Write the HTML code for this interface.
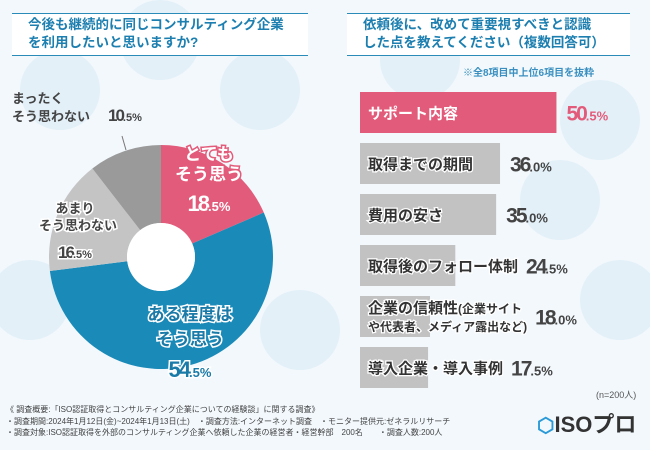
<!DOCTYPE html>
<html><head><meta charset="utf-8"><style>
body{margin:0;width:650px;height:450px;overflow:hidden;background:#f2f8fc;font-family:"Liberation Sans","Noto Sans CJK JP",sans-serif;}
#root{position:relative;width:650px;height:450px;}
.t{position:absolute;}
</style></head><body>
<div id="root">
<svg width="650" height="450" style="position:absolute;left:0;top:0">
 <g fill="#e3f0f8">
  <circle cx="60" cy="90" r="40"/><circle cx="260" cy="90" r="40"/><circle cx="160" cy="40" r="40"/>
  <circle cx="420" cy="60" r="40"/><circle cx="600" cy="120" r="40"/><circle cx="620" cy="300" r="40"/>
  <circle cx="30" cy="300" r="40"/><circle cx="300" cy="330" r="40"/><circle cx="560" cy="200" r="40"/>
 </g>
</svg>
<div class="t" style="left:12px;top:13px;width:296px;height:43px;background:#fff;border-top:1.5px solid #2a8ab8;border-bottom:1.5px solid #2a8ab8;color:#1c7fb0;font-size:13.5px;line-height:18px;padding:2px 0 0 16px;box-sizing:border-box;font-weight:bold;">今後も継続的に同じコンサルティング企業<br>を利用したいと思いますか?</div>
<div class="t" style="left:347px;top:13px;width:283px;height:43px;background:#fff;border-top:1.5px solid #2a8ab8;border-bottom:1.5px solid #2a8ab8;color:#1c7fb0;font-size:13.5px;line-height:18px;padding:2px 0 0 16px;box-sizing:border-box;font-weight:bold;">依頼後に、改めて重要視すべきと認識<br>した点を教えてください（複数回答可）</div>
<div class="t" style="left:463px;top:64px;font-size:10px;color:#3a8fc0;font-weight:bold;">※全8項目中上位6項目を抜粋</div>
<svg id="pie" width="650" height="450" style="position:absolute;left:0;top:0"></svg>
<svg id="bars" width="650" height="450" style="position:absolute;left:0;top:0"></svg>
<div class="t" style="left:596px;top:388px;font-size:9px;color:#555;">(n=200人)</div>
<div class="t" style="left:6px;top:404px;font-size:8px;line-height:11.5px;color:#444;white-space:nowrap;">《 調査概要:「ISO認証取得とコンサルティング企業についての経験談」に関する調査》<br>・調査期間:2024年1月12日(金)~2024年1月13日(土)　・調査方法:インターネット調査　・モニター提供元:ゼネラルリサーチ<br>・調査対象:ISO認証取得を外部のコンサルティング企業へ依頼した企業の経営者・経営幹部　200名　　・調査人数:200人</div>
<div class="t" style="left:537px;top:407px;font-size:22px;font-weight:bold;color:#333;"><span style="color:#2a9ad8;font-size:20px">⬡</span>ISOプロ</div>
</div>
<script>
const pieLabels=[["とても","そう思う"],["ある程度は","そう思う"],["あまり","そう思わない"],["まったく","そう思わない"]];
const pieValues=[18.5,54.5,16.5,10.5];
const pieColors=["#e35b7a","#1a8ab8","#c4c4c4","#9a9a9a"];
const barLabels=["サポート内容","取得までの期間","費用の安さ","取得後のフォロー体制","企業の信頼性","導入企業・導入事例"];
const barValues=[50.5,36.0,35.0,24.5,18.0,17.5];
const NS="http://www.w3.org/2000/svg";
function mk(p,tag,a){const e=document.createElementNS(NS,tag);for(const k in a)e.setAttribute(k,a[k]);p.appendChild(e);return e;}
const pie=document.getElementById('pie');
const cx=161,cy=257,R=112,r0=34;
const total=pieValues.reduce((a,b)=>a+b,0);
let acc=0;
function pt(f,rad){const a=f*2*Math.PI-Math.PI/2;return [cx+rad*Math.cos(a),cy+rad*Math.sin(a)];}
pieValues.forEach((v,i)=>{
 const f0=acc/total,f1=(acc+v)/total;acc+=v;
 const [x0,y0]=pt(f0,R),[x1,y1]=pt(f1,R),[x2,y2]=pt(f1,r0),[x3,y3]=pt(f0,r0);
 const lg=(f1-f0)>0.5?1:0;
 const p=mk(pie,'path',{d:`M${x0},${y0}A${R},${R} 0 ${lg} 1 ${x1},${y1}L${x2},${y2}A${r0},${r0} 0 ${lg} 0 ${x3},${y3}Z`,fill:pieColors[i]});
 
 
});
mk(pie,'circle',{cx:cx,cy:cy,r:r0,fill:'#fff'});
mk(pie,'line',{x1:122,y1:136,x2:126,y2:150,stroke:'#777','stroke-width':1});
const layout=[
 {anchor:'middle',x:[209,209],y:[160,180],nx:209,ny:211,fs:17,big:true,fill:'#fff',stroke:'#e35b7a',sw:3},
 {anchor:'middle',x:[190,190],y:[320,345],nx:190,ny:377,fs:17,big:true,fill:'#1a7aa8',stroke:'#fff',sw:3},
 {anchor:'middle',x:[75,78],y:[213,230],nx:75,ny:258,fs:13,big:false,fill:'#444',stroke:'#fff',sw:3},
 {anchor:'start',x:[12,12],y:[103,121],nx:108,ny:121,fs:13,big:false,fill:'#444',stroke:'#fff',sw:0}
];
pieLabels.forEach((lines,i)=>{
 const L=layout[i];
 const g=mk(pie,'g',{});
 
 
 lines.forEach((s,j)=>{
  const t=mk(g,'text',{x:L.x[j],y:L.y[j],'font-size':L.fs,'font-weight':'bold',fill:L.fill,stroke:L.stroke,'stroke-width':L.sw,'paint-order':'stroke','text-anchor':L.anchor});
  t.textContent=s;
 });
 const n=pieValues[i].toFixed(1).split('.');
 const t=mk(g,'text',{x:L.nx,y:L.ny,fill:L.fill,'font-weight':'bold','text-anchor':i==3?'start':'middle',stroke:L.stroke,'stroke-width':L.sw,'paint-order':'stroke'});
 const a=mk(t,'tspan',{'font-size':L.big?22:17,'letter-spacing':-2});a.textContent=n[0];
 const b=mk(t,'tspan',{'font-size':L.big?13:11});b.textContent='.'+n[1]+'%';
});
const bars=document.getElementById('bars');
const x0=360,scale=3.89,top0=92,pitch=51,bh=41;
function xs(v){return v*scale;}
barValues.forEach((v,i)=>{
 const y=top0+i*pitch;const w=xs(v);
 const hi=i==0;
 const r=mk(bars,'rect',{x:x0,y:y,width:w,height:bh,fill:hi?'#e35b7a':'#c2c2c2'});
 
 
 const lab=mk(bars,'text',{x:x0+8,y:y+bh/2+6,'font-size':15,'font-weight':'bold',fill:hi?'#fff':'#333',stroke:hi?'#e35b7a':'#fff','stroke-width':hi?0:2.5,'paint-order':'stroke'});
 
 
 let labEnd;
 if(i==4){lab.setAttribute('y',y+17);
  const a=mk(lab,'tspan',{});a.textContent=barLabels[i];
  const b=mk(lab,'tspan',{'font-size':12});b.textContent='(企業サイト';
  const t2=mk(bars,'text',{x:x0+8,y:y+35,'font-size':12,'font-weight':'bold',fill:'#333',stroke:'#fff','stroke-width':2.5,'paint-order':'stroke'});t2.textContent='や代表者、メディア露出など)';
  labEnd=x0+8+Math.max(lab.getComputedTextLength(),t2.getComputedTextLength());
 } else {lab.textContent=barLabels[i];labEnd=x0+8+lab.getComputedTextLength();}
 const n=v.toFixed(1).split('.');
 const vx=Math.max(x0+w+10,labEnd+8);
 const vt=mk(bars,'text',{x:vx,y:y+bh/2+8,fill:hi?'#e35b7a':'#444','font-weight':'bold'});
 
 
 const a=mk(vt,'tspan',{'font-size':21,'letter-spacing':-2});a.textContent=n[0];
 const b=mk(vt,'tspan',{'font-size':13});b.textContent='.'+n[1]+'%';
});
</script>
</body></html>
